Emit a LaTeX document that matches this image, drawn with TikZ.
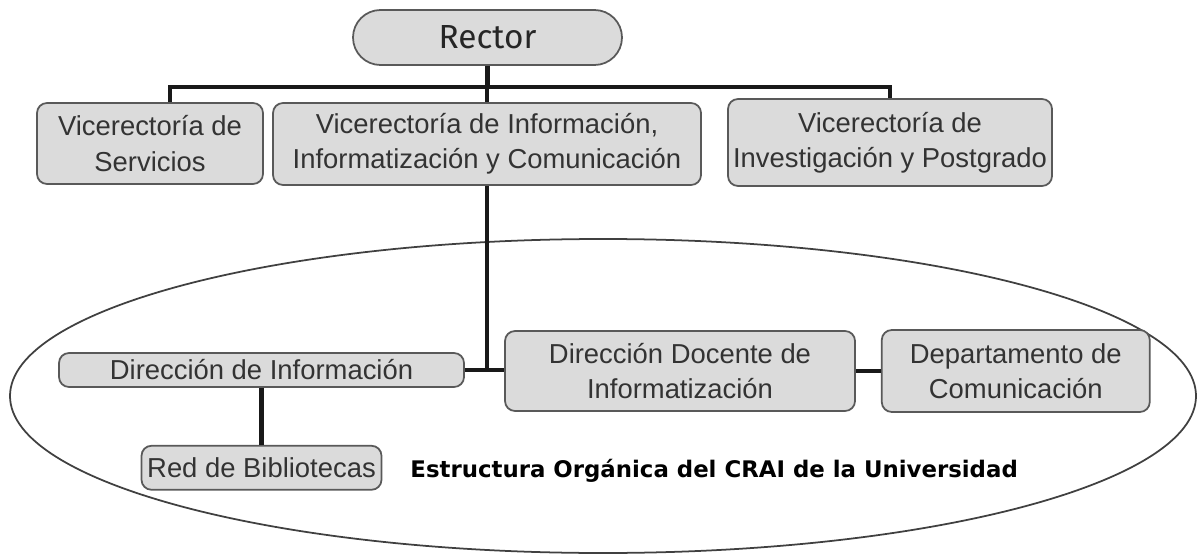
\documentclass[tikz,border=0pt]{standalone}
\usepackage{fontspec}
\setmainfont{Liberation Sans}
\newfontfamily\rectorfont{Fira Sans}
\newfontfamily\craifont{DejaVu Sans}
\usepackage{tikz}
\usetikzlibrary{positioning}

\begin{document}
\begin{tikzpicture}
              [x=0.1mm, y=-0.1mm,
               unit/.style={draw=black!65, fill=black!14, rounded corners=1mm, line width=0.5pt,
                            align=center, inner sep=0pt, text=black!80, font=\fontsize{7.8}{10}\selectfont},
               link/.style={line width=1.4pt, black!90}]
              \useasboundingbox (0,0) rectangle (1197,554);

              % CRAI ellipse %
              \draw[black!75, line width=0.5pt] (603,396) ellipse [x radius=59.3mm, y radius=15.7mm];

              % nodes %
              \node[unit, minimum width=26.9mm, minimum height=5.5mm, rounded corners=2.75mm,
                    font=\rectorfont\fontsize{9.5}{11}\selectfont, text=black!85] (rector) at (487.5,37.5) {Rector};
              \node[unit, minimum width=22.6mm, minimum height=8.1mm] (vserv) at (150,143.5) {Vicerectoría de\\Servicios};
              \node[unit, minimum width=42.8mm, minimum height=8.2mm] (vinfo) at (487,144) {Vicerectoría de Información,\\Informatización y Comunicación};
              \node[unit, minimum width=32.4mm, minimum height=8.7mm] (vinv) at (890,142.5) {Vicerectoría de\\Investigación y Postgrado};
              \node[unit, minimum width=40.5mm, minimum height=3.4mm] (dinfo) at (261.5,370) {Dirección de Información};
              \node[unit, minimum width=24mm, minimum height=4.4mm, below=5.7mm of dinfo] (red) {Red de Bibliotecas};
              \node[unit, minimum width=35mm, minimum height=8mm] (ddi) at (680,371) {Dirección Docente de\\Informatización};
              \node[unit, minimum width=26.8mm, minimum height=8.2mm, right=2.5mm of ddi] (dcom) {Departamento de\\Comunicación};
              \node[anchor=base west, font=\craifont\bfseries\fontsize{6.5}{8}\selectfont] (crai) at (398,477) {Estructura Orgánica del CRAI de la Universidad};

              % edges %
              \coordinate (bus) at (0,87);
              \draw[link] (rector.south) -- (rector.south |- bus);
              \draw[link] ([xshift=2mm]vserv.north) |- (vinv.north |- bus) -- (vinv.north);
              \draw[link] (vinfo.north |- bus) -- (vinfo.north);
              \coordinate (jn) at (vinfo.south |- dinfo.east);
              \draw[link] (vinfo.south) -- (jn);
              \draw[link] (dinfo.east) -- (dinfo.east -| ddi.west);
              \draw[link] (ddi.east) -- (dcom.west);
              \draw[link] (dinfo.south) -- (red.north);
\end{tikzpicture}
\end{document}
